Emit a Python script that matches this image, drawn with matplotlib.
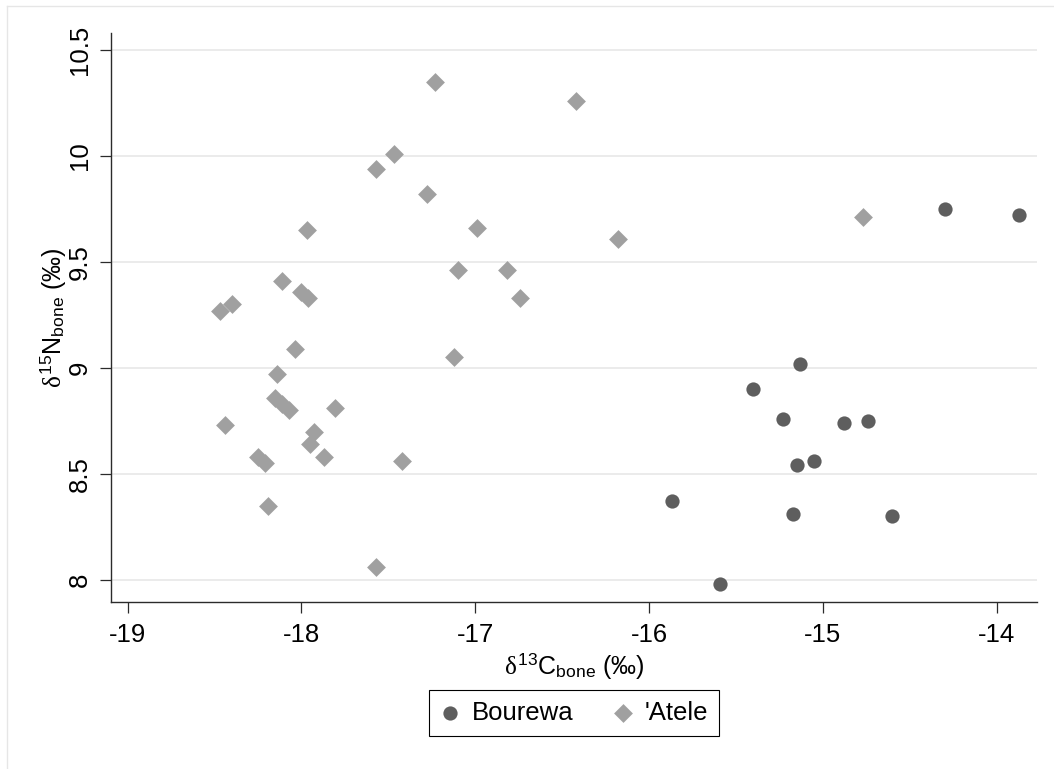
import matplotlib
matplotlib.use('Agg')
import matplotlib.pyplot as plt
from matplotlib.lines import Line2D

plt.rcParams['font.family'] = ['Liberation Sans', 'DejaVu Sans']
plt.rcParams['mathtext.fontset'] = 'custom'
plt.rcParams['mathtext.rm'] = 'Liberation Sans'
plt.rcParams['mathtext.it'] = 'Liberation Serif'
plt.rcParams['axes.unicode_minus'] = False

# bone collagen isotopes, d13C / d15N (per mil)
bourewa_c = [-14.30, -13.87, -15.13, -15.40, -15.23, -14.88, -14.74,
             -15.05, -15.15, -15.87, -15.17, -14.60, -15.59]
bourewa_n = [9.75, 9.72, 9.02, 8.90, 8.76, 8.74, 8.75,
             8.56, 8.54, 8.37, 8.31, 8.30, 7.98]

atele_c = [-17.23, -16.42, -17.47, -17.57, -17.28, -16.99, -16.18, -17.97,
           -14.77, -17.10, -16.82, -18.11, -18.00, -17.96, -16.74, -18.47,
           -18.40, -18.04, -17.12, -18.14, -18.15, -18.11, -18.07, -17.81,
           -18.44, -17.93, -17.95, -17.87, -18.25, -18.21, -17.42, -18.19,
           -17.57]
atele_n = [10.35, 10.26, 10.01, 9.94, 9.82, 9.66, 9.61, 9.65,
           9.71, 9.46, 9.46, 9.41, 9.36, 9.33, 9.33, 9.27,
           9.30, 9.09, 9.05, 8.97, 8.86, 8.83, 8.80, 8.81,
           8.73, 8.70, 8.64, 8.58, 8.58, 8.55, 8.56, 8.35,
           8.06]

x_ticks = [-19, -18, -17, -16, -15, -14]
y_ticks = [8, 8.5, 9, 9.5, 10, 10.5]
y_tick_labels = ['8', '8.5', '9', '9.5', '10', '10.5']

axis_col = '#2b2b2b'

fig = plt.figure(figsize=(10.54, 7.69), dpi=100)
ax = fig.add_axes([0.1053, 0.2172, 0.8786, 0.7399])

ax.scatter(bourewa_c, bourewa_n, s=105, marker='o', color='#5e5e5e',
           linewidths=0, label='Bourewa', zorder=3)
ax.scatter(atele_c, atele_n, s=92, marker='D', color='#a0a0a0',
           linewidths=0, label="'Atele", zorder=3)

ax.set_xlim(-19.096, -13.768)
ax.set_ylim(7.896, 10.58)
ax.set_xticks(x_ticks)
ax.set_xticklabels([str(t) for t in x_ticks])
ax.set_yticks(y_ticks)
ax.set_yticklabels(y_tick_labels)

ax.yaxis.grid(True, color='#e6e6e6', linewidth=1.1)
ax.xaxis.grid(False)
ax.set_axisbelow(True)

for side in ['top', 'right']:
    ax.spines[side].set_visible(False)
for side in ['left', 'bottom']:
    ax.spines[side].set_color(axis_col)
    ax.spines[side].set_linewidth(1.0)

ax.tick_params(direction='out', length=8, width=0.9, color=axis_col,
               labelsize=18.5)
ax.tick_params(axis='x', pad=7)
ax.tick_params(axis='y', pad=6)
for lab in ax.get_yticklabels():
    lab.set_rotation(90)
    lab.set_va('center')

ax.set_xlabel(r'$\delta^{13}\mathrm{C}_{\mathrm{bone}}$ (‰)', fontsize=18, labelpad=3)
ax.set_ylabel(r'$\delta^{15}\mathrm{N}_{\mathrm{bone}}$ (‰)', fontsize=18, labelpad=0)

leg = fig.legend(loc='center', bbox_to_anchor=(0.5446, 0.0728), ncol=2,
                 fontsize=18.5, frameon=True, fancybox=False, framealpha=1,
                 edgecolor='black', handlelength=0.8, handletextpad=0.44,
                 columnspacing=1.54, borderpad=0.42, borderaxespad=0)
leg.get_frame().set_linewidth(0.8)

# light outline of the graph region
fig.add_artist(Line2D([7 / 1054, 1], [1 - 6 / 769] * 2,
                      transform=fig.transFigure, color='#e6e6e6', lw=1))
fig.add_artist(Line2D([7 / 1054] * 2, [0, 1 - 6 / 769],
                      transform=fig.transFigure, color='#e6e6e6', lw=1))

fig.savefig('out.png', dpi=100)
